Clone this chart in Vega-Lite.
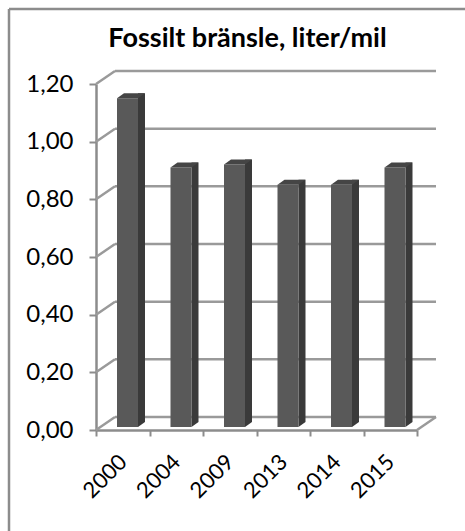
{
  "$schema": "https://vega.github.io/schema/vega-lite/v6.json",
  "width": 321,
  "height": 346,
  "autosize": {"type": "none"},
  "padding": {"left": 96, "top": 84, "right": 48, "bottom": 101},
  "background": "white",
  "config": {
    "view": {"stroke": null},
    "font": "Lato",
    "axis": {
      "domainColor": "#8c8c8c",
      "domainWidth": 2.5,
      "tickColor": "#8c8c8c",
      "tickWidth": 2,
      "labelFont": "Lato",
      "labelFontSize": 24,
      "labelColor": "#000000",
      "grid": false
    },
    "axisX": {
      "tickSize": 6,
      "tickBand": "extent",
      "labelAngle": -45,
      "labelAlign": "right",
      "labelBaseline": "middle",
      "labelFontSize": 22,
      "labelPadding": 22
    },
    "axisY": {
      "tickSize": 7,
      "tickCount": 6,
      "labelExpr": "replace(format(datum.value, '.2f'), '.', ',')",
      "labelPadding": 16
    }
  },
  "title": {
    "text": "Fossilt bränsle, liter/mil",
    "font": "Lato",
    "fontSize": 27,
    "fontWeight": "bold",
    "color": "#000000",
    "anchor": "middle",
    "frame": "group",
    "baseline": "alphabetic",
    "offset": -66,
    "dx": -9
  },
  "datasets": {
    "fuel": [
      {"year": "2000", "liter_per_mil": 1.14},
      {"year": "2004", "liter_per_mil": 0.90},
      {"year": "2009", "liter_per_mil": 0.91},
      {"year": "2013", "liter_per_mil": 0.84},
      {"year": "2014", "liter_per_mil": 0.84},
      {"year": "2015", "liter_per_mil": 0.90}
    ],
    "gridlines": [
      {"v": 0}, {"v": 0.2}, {"v": 0.4}, {"v": 0.6}, {"v": 0.8}, {"v": 1.0}, {"v": 1.2}
    ]
  },
  "layer": [
    {
      "description": "chart frame, top edge",
      "data": {"values": [{}]},
      "mark": {"type": "rule", "color": "#8c8c8c", "strokeWidth": 2.5},
      "encoding": {"x": {"value": -87}, "x2": {"value": 420}, "y": {"value": -75}}
    },
    {
      "description": "chart frame, left edge",
      "data": {"values": [{}]},
      "mark": {"type": "rule", "color": "#8c8c8c", "strokeWidth": 2.5},
      "encoding": {"x": {"value": -87}, "y": {"value": -75}, "y2": {"value": 460}}
    },
    {
      "description": "gridlines on the back wall",
      "data": {"name": "gridlines"},
      "mark": {"type": "rule", "color": "#9a9a9a", "strokeWidth": 2.5, "yOffset": -13, "y2Offset": -13},
      "encoding": {
        "x": {"value": 19},
        "x2": {"value": 340},
        "y": {"field": "v", "type": "quantitative", "scale": {"domain": [0, 1.2], "nice": false}, "axis": {"title": null}},
        "y2": {"field": "v"}
      }
    },
    {
      "description": "side wall connectors from the front axis to the back wall",
      "data": {"name": "gridlines"},
      "mark": {"type": "rule", "color": "#9a9a9a", "strokeWidth": 2.5, "y2Offset": -13},
      "encoding": {
        "x": {"value": 0},
        "x2": {"value": 19},
        "y": {"field": "v", "type": "quantitative", "axis": {"title": null}},
        "y2": {"field": "v"}
      }
    },
    {
      "description": "right edge of the floor",
      "data": {"values": [{"v": 0}]},
      "mark": {"type": "rule", "color": "#9a9a9a", "strokeWidth": 2.5, "y2Offset": -13},
      "encoding": {
        "x": {"value": 321},
        "x2": {"value": 340},
        "y": {"field": "v", "type": "quantitative", "axis": {"title": null}},
        "y2": {"field": "v"}
      }
    },
    {
      "description": "bar side faces",
      "data": {"name": "fuel"},
      "mark": {"type": "bar", "color": "#3a3a3a", "width": 7, "xOffset": 18.75, "yOffset": -8, "y2Offset": -8},
      "encoding": {
        "x": {"field": "year", "type": "nominal", "sort": null, "scale": {"paddingInner": 0, "paddingOuter": 0}, "axis": {"title": null}},
        "y": {"field": "liter_per_mil", "type": "quantitative", "axis": {"title": null}}
      }
    },
    {
      "description": "lower corner of each side face",
      "data": {"name": "fuel"},
      "mark": {"type": "point", "shape": "M0,0L0,-5L7,-5Z", "size": 4, "filled": true, "opacity": 1, "color": "#3a3a3a", "strokeWidth": 0, "xOffset": 15.25, "yOffset": -3},
      "encoding": {
        "x": {"field": "year", "type": "nominal", "sort": null, "axis": {"title": null}},
        "y": {"datum": 0, "type": "quantitative", "axis": {"title": null}}
      }
    },
    {
      "description": "bar front faces",
      "data": {"name": "fuel"},
      "mark": {"type": "bar", "color": "#595959", "width": 21, "xOffset": 4.75, "yOffset": -3, "y2Offset": -3},
      "encoding": {
        "x": {"field": "year", "type": "nominal", "sort": null, "axis": {"title": null}},
        "y": {"field": "liter_per_mil", "type": "quantitative", "axis": {"title": null}}
      }
    },
    {
      "description": "bar top faces",
      "data": {"name": "fuel"},
      "mark": {"type": "point", "shape": "M0,0L21,0L28,-5L7,-5Z", "size": 4, "filled": true, "opacity": 1, "color": "#454545", "strokeWidth": 0, "xOffset": -5.75, "yOffset": -3},
      "encoding": {
        "x": {"field": "year", "type": "nominal", "sort": null, "axis": {"title": null}},
        "y": {"field": "liter_per_mil", "type": "quantitative", "axis": {"title": null}}
      }
    }
  ]
}
